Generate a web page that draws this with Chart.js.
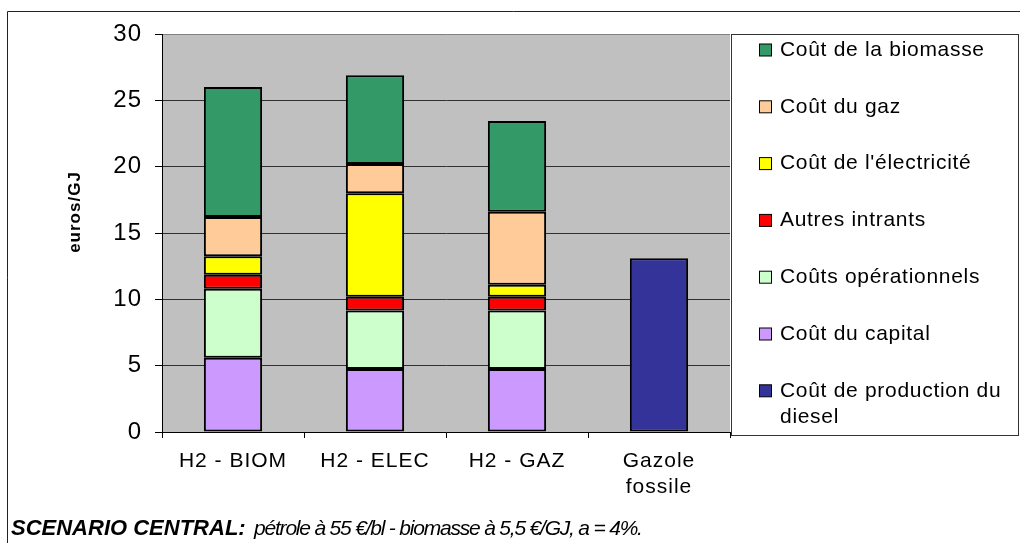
<!DOCTYPE html>
<html>
<head>
<meta charset="utf-8">
<script src="https://cdn.jsdelivr.net/npm/chart.js@4/dist/chart.umd.min.js"></script>
<style>
  html, body { margin: 0; padding: 0; background: #fff; }
  #wrap { width: 1020px; height: 543px; position: relative; }
</style>
</head>
<body>
<div id="wrap"><canvas id="c" width="1020" height="543"></canvas></div>
<script>
// Categories (x axis)
const categories = ['H2 - BIOM', 'H2 - ELEC', 'H2 - GAZ', ['Gazole', 'fossile']];

// Cost components in euros/GJ, stacked from the bottom up
const coutCapital        = [5.6, 4.75, 4.75, null];
const coutsOperationnels = [5.2, 4.4, 4.4, null];
const autresIntrants     = [1.05, 1.05, 1.05, null];
const coutElectricite    = [1.4, 7.8, 0.9, null];
const coutGaz            = [2.95, 2.2, 5.5, null];
const coutBiomasse       = [9.8, 6.7, 6.85, null];
const coutDiesel         = [null, null, null, 13.1];

// Y axis
const yMin = 0, yMax = 30, yStep = 5;

const FONT = "'Liberation Sans', Arial, sans-serif";

function ds(label, data, color) {
  return {
    label, data, backgroundColor: color,
    borderColor: '#000', borderWidth: 2, borderSkipped: false,
    stack: 'cout', barPercentage: 0.41, categoryPercentage: 1.0
  };
}

const datasets = [
  ds('Coût du capital', coutCapital, '#CC99FF'),
  ds('Coûts opérationnels', coutsOperationnels, '#CCFFCC'),
  ds('Autres intrants', autresIntrants, '#FF0000'),
  ds("Coût de l'électricité", coutElectricite, '#FFFF00'),
  ds('Coût du gaz', coutGaz, '#FFCC99'),
  ds('Coût de la biomasse', coutBiomasse, '#339966'),
  ds('Coût de production du diesel', coutDiesel, '#333399')
];

// legend order: top of stack first, diesel last
const legendOrder = [5, 4, 3, 2, 1, 0, 6];
const legendLines = {6: ['Coût de production du', 'diesel']};

const frame = {
  id: 'frame',
  beforeDraw(chart) {
    const ctx = chart.ctx, a = chart.chartArea;
    ctx.save();
    ctx.fillStyle = '#C0C0C0';
    ctx.fillRect(a.left, a.top, a.right - a.left, a.bottom - a.top);
    ctx.restore();
    ctx.letterSpacing = '1px';
  },
  afterDraw(chart) {
    const ctx = chart.ctx;
    ctx.save();
    // outer frame (top and left edges)
    ctx.strokeStyle = '#222';
    ctx.lineWidth = 1;
    ctx.beginPath();
    ctx.moveTo(7.5, 543); ctx.lineTo(7.5, 11.5); ctx.lineTo(1020, 11.5);
    ctx.stroke();

    // y axis title
    ctx.save();
    ctx.translate(75, 212);
    ctx.rotate(-Math.PI / 2);
    ctx.font = 'bold 17px ' + FONT;
    ctx.letterSpacing = '1px';
    ctx.fillStyle = '#000';
    ctx.textAlign = 'center';
    ctx.textBaseline = 'middle';
    ctx.fillText('euros/GJ', 0, 0);
    ctx.restore();

    // legend box
    const lx = 731.5, ly = 34.5, lw = 287, lh = 401;
    ctx.fillStyle = '#fff';
    ctx.fillRect(lx, ly, lw, lh);
    ctx.strokeStyle = '#333';
    ctx.strokeRect(lx, ly, lw, lh);
    ctx.font = '21px ' + FONT;
    ctx.letterSpacing = '0.7px';
    ctx.textAlign = 'left';
    ctx.textBaseline = 'middle';
    legendOrder.forEach((di, i) => {
      const d = chart.data.datasets[di];
      const cy = 50 + i * 56.8;
      ctx.fillStyle = d.backgroundColor;
      ctx.fillRect(759.5, cy - 6, 12, 12);
      ctx.lineWidth = 1;
      ctx.strokeStyle = '#000';
      ctx.strokeRect(759.5, cy - 6, 12, 12);
      ctx.fillStyle = '#000';
      const lines = legendLines[di] || [d.label];
      lines.forEach((t, k) => ctx.fillText(t, 780, cy + k * 26));
    });

    // scenario caption
    ctx.fillStyle = '#000';
    ctx.textBaseline = 'alphabetic';
    ctx.letterSpacing = '0px';
    ctx.font = 'italic bold 22px ' + FONT;
    ctx.fillText('SCENARIO CENTRAL:', 11, 535);
    ctx.font = 'italic 21px ' + FONT;
    ctx.letterSpacing = '-1.2px';
    ctx.fillText('pétrole à 55 €/bl - biomasse à 5,5 €/GJ, a = 4%.', 254, 535);
    ctx.restore();
  }
};

new Chart(document.getElementById('c'), {
  type: 'bar',
  data: { labels: categories, datasets },
  options: {
    responsive: false,
    animation: false,
    layout: { padding: { top: 34, right: 290, bottom: 0, left: 0 } },
    plugins: { legend: { display: false }, tooltip: { enabled: false } },
    scales: {
      x: {
        stacked: true,
        grid: { display: true, drawOnChartArea: false, offset: true, tickLength: 6, tickColor: '#000' },
        border: { display: true, color: '#000', width: 1 },
        ticks: { color: '#000', font: { family: FONT, size: 21, lineHeight: 1.25 }, padding: 10, maxRotation: 0 },
        afterFit(scale) { scale.height = 111; }
      },
      y: {
        stacked: true,
        min: yMin, max: yMax,
        grid: {
          color: (c) => c.tick && c.tick.value === yMax ? '#808080' : '#303030',
          tickColor: '#000', tickLength: 7, lineWidth: 1
        },
        border: { display: true, color: '#000', width: 1 },
        ticks: { stepSize: yStep, color: '#000', font: { family: FONT, size: 24 }, padding: 13 },
        afterFit(scale) { scale.width = 162; }
      }
    }
  },
  plugins: [frame]
});
</script>
</body>
</html>
